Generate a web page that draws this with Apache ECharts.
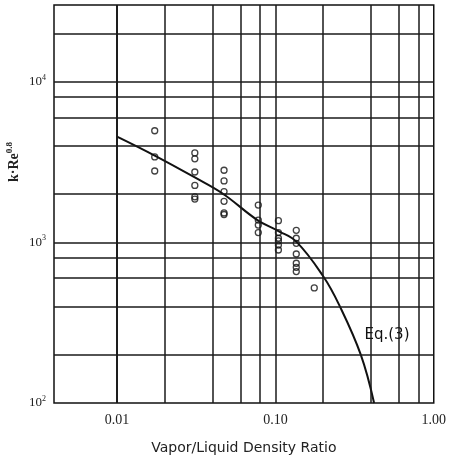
<!DOCTYPE html>
<html>
<head>
<meta charset="UTF-8">
<title>k·Re vs density ratio</title>
<script src="https://cdn.jsdelivr.net/npm/echarts@6/dist/echarts.min.js"></script>
<style>
    html, body { margin: 0; padding: 0; background: #fff; }
    #main { width: 449px; height: 460px; }
</style>
</head>
<body>
<div id="main"></div>
<script type="text/javascript">
    // measured points (open circles)
    var pointRatio = [
        0.0173, 0.0173, 0.0173,
        0.031, 0.031, 0.031, 0.031, 0.031, 0.031,
        0.0474, 0.0474, 0.0474, 0.0474, 0.0474, 0.0474,
        0.078, 0.078, 0.078, 0.078,
        0.1045, 0.1045, 0.1045, 0.1045, 0.1045, 0.1045,
        0.1355, 0.1355, 0.1355, 0.1355, 0.1355, 0.1355, 0.1355,
        0.176
    ];
    var pointKRe = [
        4950, 3400, 2780,
        3600, 3310, 2740, 2260, 1920, 1860,
        2810, 2410, 2070, 1800, 1525, 1490,
        1705, 1376, 1281, 1150,
        1364, 1150, 1060, 1020, 962, 896,
        1187, 1060, 986, 846, 741, 699, 658,
        520
    ];

    // Eq.(3) curve
    var curveRatio = [0.01, 0.0173, 0.031, 0.0464, 0.077, 0.1045, 0.1355, 0.2004, 0.2527, 0.346, 0.42];
    var curveKRe = [4550, 3467, 2535, 2014, 1376, 1175, 1010, 615, 408, 200, 100];

    // grid lines and tick labels
    var xGridValues = [0.006, 0.008, 0.01, 0.02, 0.04, 0.06, 0.08, 0.1, 0.2, 0.4, 0.6, 0.8];
    var yGridValues = [200, 400, 600, 800, 1000, 2000, 4000, 6000, 8000, 10000, 20000];
    var xTickValues = [0.01, 0.1, 1];
    var xTickLabels = ['0.01', '0.10', '1.00'];
    var yTickValues = [100, 1000, 10000];
    var yTickExp = ['2', '3', '4'];

    function findTick(v, list) {
        for (var i = 0; i < list.length; i++) {
            if (Math.abs(Math.log10(v) - Math.log10(list[i])) < 1e-6) return i;
        }
        return -1;
    }

    var points = pointRatio.map(function (x, i) { return [x, pointKRe[i]]; });
    var curve = curveRatio.map(function (x, i) { return [x, curveKRe[i]]; });

    var gridLines = [];
    xGridValues.forEach(function (v) { gridLines.push({ xAxis: v }); });
    yGridValues.forEach(function (v) { gridLines.push({ yAxis: v }); });

    var myChart = echarts.init(document.getElementById('main'));

    var option = {
        animation: false,
        backgroundColor: '#fff',
        grid: {
            left: 54, right: 14, top: 5, bottom: 55,
            show: true,
            borderColor: '#111',
            borderWidth: 1.5
        },
        xAxis: {
            type: 'log',
            logBase: 10,
            min: 0.004,
            max: 1,
            name: 'Vapor/Liquid Density Ratio',
            nameLocation: 'middle',
            nameGap: 38,
            nameTextStyle: { fontFamily: 'DejaVu Sans', fontSize: 14, color: '#222' },
            axisLine: { show: false },
            axisTick: { show: false },
            splitLine: { show: false },
            axisLabel: {
                margin: 10,
                fontFamily: 'Liberation Serif',
                fontSize: 14,
                color: '#222',
                showMinLabel: false,
                formatter: function (v) {
                    var i = findTick(v, xTickValues);
                    return i < 0 ? '' : xTickLabels[i];
                }
            }
        },
        yAxis: {
            type: 'log',
            logBase: 10,
            min: 100,
            max: 30000,
            axisLine: { show: false },
            axisTick: { show: false },
            splitLine: { show: false },
            axisLabel: {
                margin: 8,
                fontFamily: 'Liberation Serif',
                fontSize: 13,
                color: '#222',
                showMaxLabel: false,
                formatter: function (v) {
                    var i = findTick(v, yTickValues);
                    return i < 0 ? '' : '{b|10}{s|' + yTickExp[i] + '}';
                },
                rich: {
                    b: { fontFamily: 'Liberation Serif', fontSize: 13, color: '#222' },
                    s: { fontFamily: 'Liberation Serif', fontSize: 8, color: '#222', padding: [0, 0, 8, 0] }
                }
            }
        },
        graphic: [
            {
                type: 'text',
                x: 14,
                y: 162,
                rotation: Math.PI / 2,
                style: {
                    text: '{a|k·Re}{s|0.8}',
                    align: 'center',
                    verticalAlign: 'middle',
                    rich: {
                        a: { fontFamily: 'Liberation Serif', fontSize: 14, fontWeight: 'bold', fill: '#222' },
                        s: { fontFamily: 'Liberation Serif', fontSize: 9, fontWeight: 'bold', fill: '#222', padding: [0, 0, 8, 0] }
                    }
                }
            },
            {
                type: 'text',
                x: 387,
                y: 335,
                style: {
                    text: 'Eq.(3)',
                    align: 'center',
                    verticalAlign: 'middle',
                    fontFamily: 'DejaVu Sans',
                    fontSize: 15,
                    fill: '#111'
                }
            }
        ],
        series: [
            {
                name: 'grid',
                type: 'line',
                data: [],
                silent: true,
                markLine: {
                    silent: true,
                    symbol: ['none', 'none'],
                    label: { show: false },
                    lineStyle: { color: '#1a1a1a', width: 1.5, type: 'solid' },
                    emphasis: { disabled: true },
                    data: gridLines
                }
            },
            {
                name: 'Eq.(3)',
                type: 'line',
                data: curve,
                smooth: 0.4,
                showSymbol: false,
                lineStyle: { color: '#111', width: 2 },
                z: 3
            },
            {
                name: 'data',
                type: 'scatter',
                data: points,
                symbol: 'circle',
                symbolSize: 6,
                itemStyle: { color: 'rgba(0,0,0,0)', borderColor: '#111', borderWidth: 1.3 },
                z: 4
            }
        ]
    };

    myChart.setOption(option);
</script>
</body>
</html>
